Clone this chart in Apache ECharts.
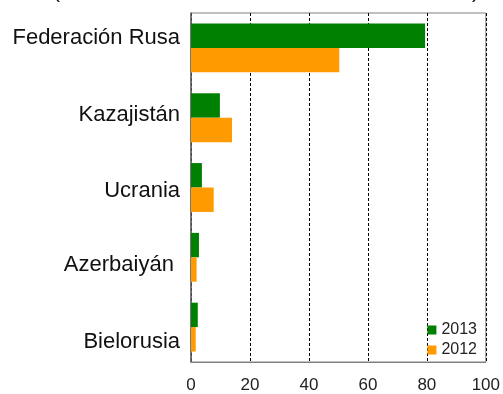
<!DOCTYPE html>
<html>
<head>
<meta charset="utf-8">
<script src="https://cdn.jsdelivr.net/npm/echarts@6/dist/echarts.min.js"></script>
<style>
  html, body { margin: 0; padding: 0; background: #fff; }
  #chart { width: 503px; height: 394px; }
</style>
</head>
<body>
<div id="chart"></div>
<script>
// Countries, top to bottom
const countries = ['Federación Rusa', 'Kazajistán', 'Ucrania', 'Azerbaiyán ', 'Bielorusia'];
// Share values per year
const values2013 = [79.4, 9.8, 3.7, 2.7, 2.3];
const values2012 = [50.3, 13.9, 7.7, 1.9, 1.6];
const xTicks = [0, 20, 40, 60, 80, 100];
// Vertical nudge of each country label (px, positive = down)
const labelShift = [-10, -3, 3, 8, 15];

const chart = echarts.init(document.getElementById('chart'));

// one rich style per label, carrying its vertical nudge as padding
const labelRich = {};
labelShift.forEach((s, i) => {
  labelRich['c' + i] = {
    fontSize: 22, color: '#111',
    fontFamily: 'Liberation Sans, Arial, sans-serif',
    padding: s < 0 ? [0, 0, -2 * s, 0] : [2 * s, 0, 0, 0]
  };
});

chart.setOption({
  animation: false,
  backgroundColor: '#fff',
  textStyle: { fontFamily: 'Liberation Sans, Arial, sans-serif' },
  grid: {
    left: 191, right: 16, top: 13, bottom: 32,
    show: true, borderColor: '#808080', borderWidth: 1, backgroundColor: '#fff'
  },
  legend: {
    orient: 'vertical',
    right: 21, top: 317,
    itemWidth: 9, itemHeight: 9, itemGap: 4,
    icon: 'rect',
    textStyle: { fontSize: 16, color: '#222', fontFamily: 'Liberation Sans, Arial, sans-serif' },
    data: ['2013', '2012']
  },
  xAxis: {
    type: 'value',
    min: xTicks[0], max: xTicks[xTicks.length - 1], interval: 20,
    axisLine: { show: true, lineStyle: { color: '#808080' } },
    axisTick: { show: false },
    axisLabel: { fontSize: 17, color: '#222', margin: 15, showMaxLabel: true },
    splitLine: { show: true, lineStyle: { color: '#000', type: [3, 2], width: 1 } }
  },
  yAxis: {
    type: 'category',
    inverse: true,
    data: countries,
    axisLine: { show: true, lineStyle: { color: '#606060', width: 1.5 } },
    axisTick: { show: false },
    axisLabel: {
      margin: 11,
      formatter: (v, i) => '{c' + i + '|' + v + '}',
      rich: labelRich
    }
  },
  series: [
    {
      name: '2013', type: 'bar', data: values2013,
      itemStyle: { color: '#008000' },
      barGap: '0%', barCategoryGap: '30%'
    },
    {
      name: '2012', type: 'bar', data: values2012,
      itemStyle: { color: '#FF9A00' },
      barGap: '0%', barCategoryGap: '30%'
    }
  ],
  graphic: [
    { type: 'text', left: 53, top: -18, style: { text: '(', fontSize: 21, fill: '#111' } },
    { type: 'text', left: 472, top: -18, style: { text: ')', fontSize: 21, fill: '#111' } }
  ]
});
</script>
</body>
</html>
